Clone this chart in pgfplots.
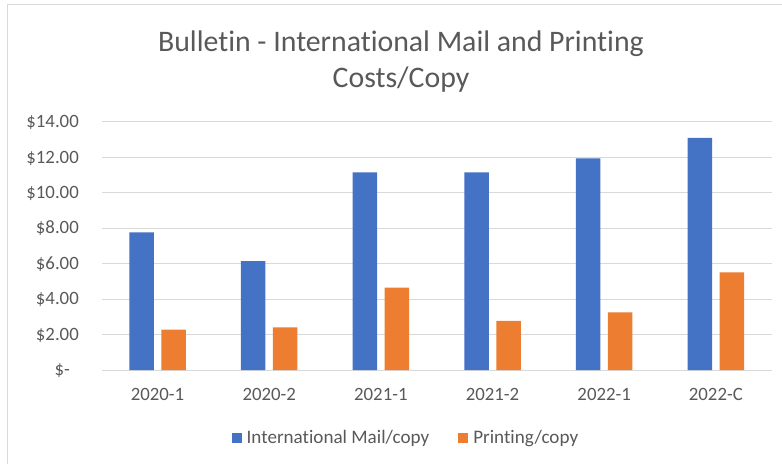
\documentclass[border=0pt]{standalone}
\usepackage{pgfplots}
\pgfplotsset{compat=1.18}
\usepackage{fontspec}
\setmainfont{Carlito}[Ligatures=NoCommon]
\definecolor{mblue}{HTML}{4472C4}
\definecolor{morange}{HTML}{ED7D31}
\definecolor{gridc}{HTML}{D9D9D9}
\definecolor{txt}{HTML}{595959}
\pgfplotsset{sqlegend/.style={legend image code/.code={\fill[##1] (0pt,0pt) rectangle (10pt,10pt);}}}
\begin{document}
\begin{tikzpicture}[x=1pt,y=1pt]
\path[use as bounding box] (0,0) rectangle (782,464);
\draw[gridc, line width=1pt] (7,0) -- (7,459) -- (782,459);
\node[anchor=base, text=txt, font=\fontsize{29.8}{35}\selectfont] at (401,412.3) {Bulletin - International Mail and Printing};
\node[anchor=base, text=txt, font=\fontsize{29.8}{35}\selectfont] at (401,376.3) {Costs/Copy};
\begin{scope}[shift={(101.7pt,94pt)}]
\begin{axis}[at={(0pt,0pt)}, anchor=south west, scale only axis,
  width=670pt, height=248pt,
  ybar=7.5pt, bar width=24.5pt,
  xmin=-0.5, xmax=5.5, ymin=0, ymax=14,
  xtick={0,1,2,3,4,5},
  xticklabels={2020-1,2020-2,2021-1,2021-2,2022-1,2022-C},
  ytick={0,2,4,6,8,10,12,14},
  yticklabels={\$-\kern9pt,\$2.00,\$4.00,\$6.00,\$8.00,\$10.00,\$12.00,\$14.00},
  axis line style={draw=none}, major tick length=0pt,
  ymajorgrids, grid style={gridc, line width=1pt},
  tick label style={text=txt, font=\fontsize{18.8}{22}\selectfont, inner sep=0pt},
  xticklabel style={anchor=base, yshift=-30.7pt},
  yticklabel style={anchor=base east, xshift=-22.7pt, yshift=-5.7pt},
  legend style={at={(0.194,-0.2956)}, anchor=south west, draw=none, fill=none,
    inner sep=0pt, outer sep=0pt, font=\fontsize{19.1}{22}\selectfont, text=txt,
    nodes={inner sep=0pt, text depth=0pt, anchor=base west},
    /tikz/every odd column/.append style={column sep=5pt},
    /tikz/every even column/.append style={column sep=29pt}},
  legend columns=2,
]
\addplot[fill=mblue, draw=none, sqlegend]
  coordinates {(0,7.77) (1,6.15) (2,11.16) (3,11.16) (4,11.95) (5,13.10)};
\addlegendentry{International Mail/copy}
\addplot[fill=morange, draw=none, sqlegend]
  coordinates {(0,2.28) (1,2.41) (2,4.65) (3,2.78) (4,3.25) (5,5.51)};
\addlegendentry{Printing/copy}
\end{axis}
\end{scope}
\end{tikzpicture}
\end{document}
